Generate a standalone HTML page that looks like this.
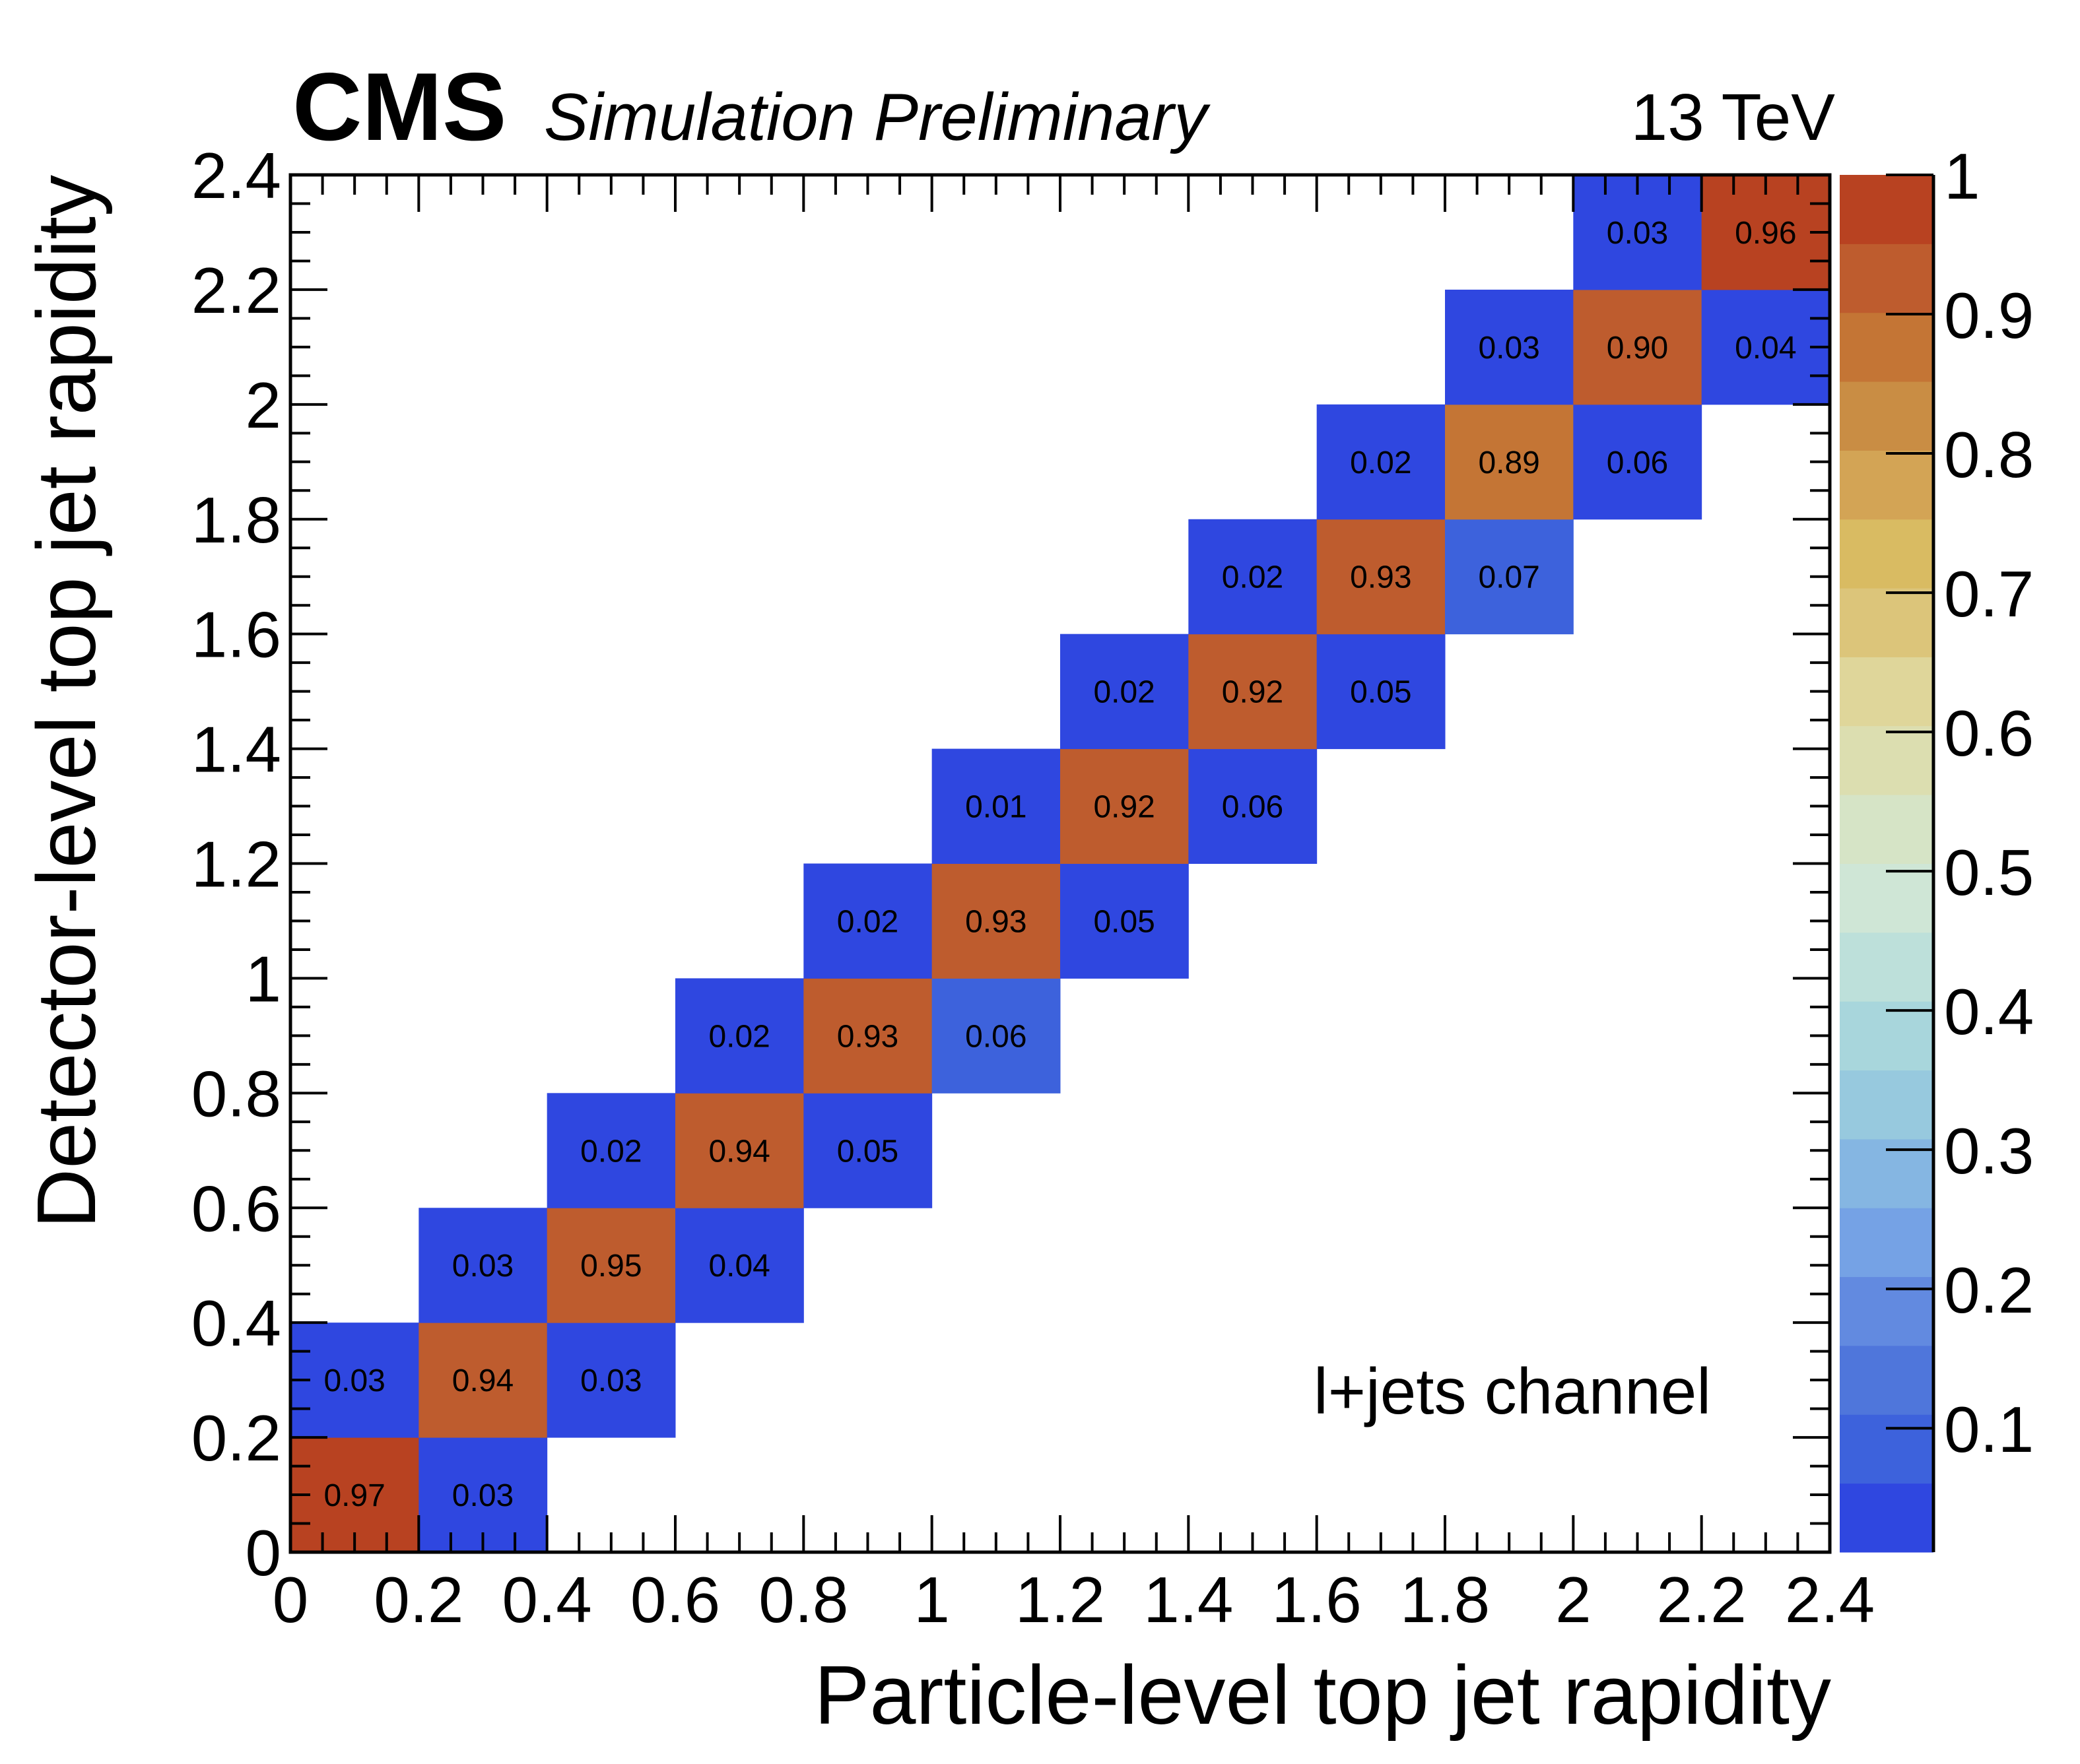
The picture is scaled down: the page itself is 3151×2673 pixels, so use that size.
<!DOCTYPE html>
<html><head><meta charset="utf-8"><style>
html,body{margin:0;padding:0;background:#fff}
svg{display:block}
text{font-family:"Liberation Sans",sans-serif}
</style></head><body>
<svg id="chart" width="3151" height="2673" viewBox="0 0 3151 2673" xmlns="http://www.w3.org/2000/svg">
<g id="cells"></g>
<g id="axes"></g>
<g id="cbar"></g>
<text x="443" y="212" font-size="146" font-weight="bold">CMS</text>
<text x="824" y="212" font-size="101" font-style="italic">Simulation Preliminary</text>
<text x="2780" y="212" font-size="100" text-anchor="end">13 TeV</text>
<text x="1990" y="2142" font-size="98">l+jets channel</text>
<text x="2774" y="2612" font-size="126" text-anchor="end">Particle-level top jet rapidity</text>
<text transform="translate(144,265) rotate(-90)" font-size="126" text-anchor="end">Detector-level top jet rapidity</text>
</svg>
<script>
const binEdges = [0,0.2,0.4,0.6,0.8,1.0,1.2,1.4,1.6,1.8,2.0,2.2,2.4];
// each cell: [x bin index, y bin index, value]
const cellX = [0,1, 0,1,2, 1,2,3, 2,3,4, 3,4,5, 4,5,6, 5,6,7, 6,7,8, 7,8,9, 8,9,10, 9,10,11, 10,11];
const cellY = [0,0, 1,1,1, 2,2,2, 3,3,3, 4,4,4, 5,5,5, 6,6,6, 7,7,7, 8,8,8, 9,9,9, 10,10,10, 11,11];
const cellV = [0.97,0.03, 0.03,0.94,0.03, 0.03,0.948,0.04, 0.02,0.94,0.05, 0.02,0.93,0.062, 0.02,0.93,0.05, 0.01,0.92,0.058, 0.02,0.92,0.05, 0.02,0.93,0.07, 0.02,0.89,0.058, 0.03,0.904,0.04, 0.03,0.96];
const xTicks = ["0","0.2","0.4","0.6","0.8","1","1.2","1.4","1.6","1.8","2","2.2","2.4"];
const yTicks = ["0","0.2","0.4","0.6","0.8","1","1.2","1.4","1.6","1.8","2","2.2","2.4"];
const zTicks = ["0.1","0.2","0.3","0.4","0.5","0.6","0.7","0.8","0.9","1"];
const palette = ["#2f47e0","#3d62dc","#4f76db","#628ae0","#75a2e5","#85b6e2","#97c9de","#a8d6dc","#bde0da","#cfe6d6","#d6e4c6","#dcdeb0","#dfd69a","#dcc57a","#d9bb62","#d3a455","#c98d44","#c47535","#be5c2e","#b84221"];

const NS="http://www.w3.org/2000/svg";
const L=440,R=2772,T=265,B=2352;
const CL=2787,CR=2929,zMin=0.011,zMax=1;
const xs=v=>L+(v-0)/(2.4-0)*(R-L);
const ys=v=>B-(v-0)/(2.4-0)*(B-T);
const zs=v=>B-(v-zMin)/(zMax-zMin)*(B-T);
const bw=(zMax-zMin)/20;
const colorOf=v=>palette[Math.max(0,Math.min(19,Math.floor((v-zMin)/bw)))];
function mk(tag,attrs,parent){const e=document.createElementNS(NS,tag);for(const k in attrs)e.setAttribute(k,attrs[k]);parent.appendChild(e);return e;}

const cells=document.getElementById('cells');
for(let i=0;i<cellV.length;i++){
  const x0=xs(binEdges[cellX[i]]),x1=xs(binEdges[cellX[i]+1]);
  const y0=ys(binEdges[cellY[i]+1]),y1=ys(binEdges[cellY[i]]);
  const r=mk('rect',{x:x0,y:y0,width:x1-x0+0.5,height:y1-y0+0.5,fill:colorOf(cellV[i])},cells);
  
  
  const t=mk('text',{x:(x0+x1)/2,y:(y0+y1)/2+17,'font-size':48,'text-anchor':'middle',fill:'#000'},cells);
  t.textContent=cellV[i].toFixed(2);
  
  
}

const axes=document.getElementById('axes');
const fr=mk('rect',{x:L,y:T,width:R-L,height:B-T,fill:'none',stroke:'#000','stroke-width':5},axes);


for(let k=0;k<=48;k++){
  const v=k*0.05,maj=(k%4===0),len=maj?56:30;
  const x=xs(v),y=ys(v);
  mk('line',{x1:x,y1:B,x2:x,y2:B-len,stroke:'#000','stroke-width':4},axes);
  mk('line',{x1:x,y1:T,x2:x,y2:T+len,stroke:'#000','stroke-width':4},axes);
  mk('line',{x1:L,y1:y,x2:L+len,y2:y,stroke:'#000','stroke-width':4},axes);
  mk('line',{x1:R,y1:y,x2:R-len,y2:y,stroke:'#000','stroke-width':4},axes);
}
for(let i=0;i<xTicks.length;i++){
  const t=mk('text',{x:xs(i*0.2),y:2458,'font-size':98,'text-anchor':'middle'},axes);
  t.textContent=xTicks[i];
  
  
}
for(let i=0;i<yTicks.length;i++){
  const t=mk('text',{x:426,y:ys(i*0.2)+35,'font-size':98,'text-anchor':'end'},axes);
  t.textContent=yTicks[i];
  
  
}

const cbar=document.getElementById('cbar');
for(let b=0;b<20;b++){
  const lo=zMin+b*bw,hi=zMin+(b+1)*bw;
  const r=mk('rect',{x:CL,y:zs(hi),width:CR-CL,height:zs(lo)-zs(hi)+0.5,fill:palette[b]},cbar);
  
  
}
mk('line',{x1:CR,y1:T,x2:CR,y2:B,stroke:'#000','stroke-width':5},cbar);
for(let i=0;i<zTicks.length;i++){
  const v=parseFloat(zTicks[i]),y=zs(v);
  mk('line',{x1:CR,y1:y,x2:CR-72,y2:y,stroke:'#000','stroke-width':4},cbar);
  const t=mk('text',{x:2945,y:y+36,'font-size':98},cbar);
  t.textContent=zTicks[i];
  
  
}
</script>
</body></html>
